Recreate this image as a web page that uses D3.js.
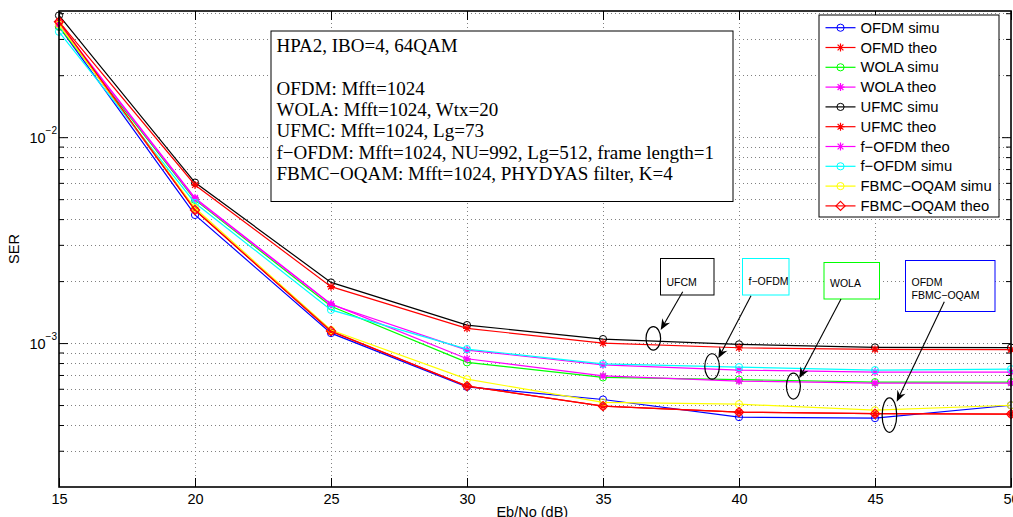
<!DOCTYPE html>
<html>
<head>
<meta charset="utf-8">
<script src="https://cdn.jsdelivr.net/npm/d3@7"></script>
<style>
  body { margin: 0; background: #fff; }
  svg { display: block; }
</style>
</head>
<body>
<svg id="chart"></svg>
<script>
// Eb/No points (dB)
const ebno = [15, 20, 25, 30, 35, 40, 45, 50];

// SER per waveform
const ofdmSimu  = [0.0344, 0.00419, 0.001118, 0.000613, 0.000532, 0.000437, 0.000432, 0.000499];
const ofdmTheo  = [0.0356, 0.00443, 0.001137, 0.000618, 0.000494, 0.000462, 0.000454, 0.000452];
const wolaSimu  = [0.0344, 0.00496, 0.00151, 0.000806, 0.000681, 0.000665, 0.000646, 0.000646];
const wolaTheo  = [0.0356, 0.00507, 0.00155, 0.000839, 0.000693, 0.000654, 0.000639, 0.000639];
const ufmcSimu  = [0.0390, 0.00602, 0.00197, 0.001223, 0.001046, 0.000986, 0.000953, 0.000951];
const ufmcTheo  = [0.0364, 0.00586, 0.00188, 0.001179, 0.00100, 0.000949, 0.000932, 0.000930];
const fofdmTheo = [0.0352, 0.00501, 0.00154, 0.000925, 0.000784, 0.000739, 0.000723, 0.000723];
const fofdmSimu = [0.0325, 0.00479, 0.00145, 0.000935, 0.000793, 0.000764, 0.000739, 0.000747];
const fbmcSimu  = [0.0352, 0.00453, 0.001157, 0.000668, 0.000515, 0.000505, 0.000472, 0.000499];
const fbmcTheo  = [0.0364, 0.00443, 0.001144, 0.000618, 0.000494, 0.000462, 0.000454, 0.000452];

const legendNames = [
  "OFDM simu", "OFMD theo", "WOLA simu", "WOLA theo", "UFMC simu",
  "UFMC theo", "f\u2212OFDM theo", "f\u2212OFDM simu", "FBMC\u2212OQAM simu", "FBMC\u2212OQAM theo"
];

const xTicks = [15, 20, 25, 30, 35, 40, 45, 50];
const yMajor = [1e-3, 1e-2];
const yMinor = [3e-4, 4e-4, 5e-4, 6e-4, 7e-4, 8e-4, 9e-4,
  2e-3, 3e-3, 4e-3, 5e-3, 6e-3, 7e-3, 8e-3, 9e-3, 2e-2, 3e-2, 4e-2];

const infoLines = [
  "HPA2, IBO=4, 64QAM",
  "",
  "OFDM: Mfft=1024",
  "WOLA: Mfft=1024, Wtx=20",
  "UFMC: Mfft=1024, Lg=73",
  "f\u2212OFDM: Mfft=1024, NU=992, Lg=512, frame length=1",
  "FBMC\u2212OQAM: Mfft=1024, PHYDYAS filter, K=4"
];

// ellipse annotations in data units: [Eb/No, SER]
const ellipseAt = [[36.85, 0.001054], [39.01, 0.00077], [42.0, 0.000618], [45.53, 0.000447]];

const width = 1013;
const height = 517;
const plot = { left: 59, right: 1011, top: 11, bottom: 487 };

const series = [
  { values: ofdmSimu,  color: "#0000ff", marker: "circle" },
  { values: ofdmTheo,  color: "#ff0000", marker: "star" },
  { values: wolaSimu,  color: "#00ff00", marker: "circle" },
  { values: wolaTheo,  color: "#ff00ff", marker: "star" },
  { values: ufmcSimu,  color: "#000000", marker: "circle" },
  { values: ufmcTheo,  color: "#ff0000", marker: "star" },
  { values: fofdmTheo, color: "#ff00ff", marker: "star" },
  { values: fofdmSimu, color: "#00ffff", marker: "circle" },
  { values: fbmcSimu,  color: "#ffff00", marker: "circle" },
  { values: fbmcTheo,  color: "#ff0000", marker: "diamond" },
].map((s, i) => ({ ...s, name: legendNames[i] }));

const svg = d3.select("#chart")
  .attr("width", width)
  .attr("height", height)
  .attr("viewBox", `0 0 ${width} ${height}`)
  .style("font-family", "'Liberation Sans', Arial, sans-serif");

svg.append("rect").attr("width", width).attr("height", height).attr("fill", "#fff");

const x = d3.scaleLinear().domain([15, 50]).range([plot.left, plot.right]);
const y = d3.scaleLog().domain([2e-4, 0.041]).range([plot.bottom, plot.top]);

// dotted grid
const grid = svg.append("g")
  .attr("stroke", "#808080")
  .attr("stroke-width", 1)
  .attr("stroke-dasharray", "1,3");

grid.selectAll(".gx")
  .data(xTicks.slice(1, -1))
  .join("line")
  .attr("x1", (d) => Math.round(x(d)) + 0.5).attr("x2", (d) => Math.round(x(d)) + 0.5)
  .attr("y1", plot.top).attr("y2", plot.bottom);

grid.selectAll(".gy")
  .data(yMajor.concat(yMinor))
  .join("line")
  .attr("x1", plot.left).attr("x2", plot.right)
  .attr("y1", (d) => Math.round(y(d)) + 0.5).attr("y2", (d) => Math.round(y(d)) + 0.5);

// ticks (inward) on all four sides
const tickStyle = (g) => {
  g.select(".domain").remove();
  g.selectAll(".tick line").attr("stroke", "#000");
};

svg.append("g")
  .attr("transform", `translate(0,${plot.bottom})`)
  .call(d3.axisBottom(x).tickValues(xTicks).tickSize(-9).tickPadding(7))
  .call(tickStyle)
  .call((g) => g.selectAll("text").attr("font-size", 14.5).attr("fill", "#000")
    .attr("font-family", "'Liberation Sans', Arial, sans-serif"));

svg.append("g")
  .attr("transform", `translate(0,${plot.top})`)
  .call(d3.axisTop(x).tickValues(xTicks).tickSize(-9).tickFormat(""))
  .call(tickStyle);

svg.append("g")
  .attr("transform", `translate(${plot.left},0)`)
  .call(d3.axisLeft(y).tickValues(yMajor).tickSize(-9).tickFormat(""))
  .call(tickStyle);
svg.append("g")
  .attr("transform", `translate(${plot.left},0)`)
  .call(d3.axisLeft(y).tickValues(yMinor).tickSize(-5).tickFormat(""))
  .call(tickStyle);
svg.append("g")
  .attr("transform", `translate(${plot.right},0)`)
  .call(d3.axisRight(y).tickValues(yMajor).tickSize(-9).tickFormat(""))
  .call(tickStyle);
svg.append("g")
  .attr("transform", `translate(${plot.right},0)`)
  .call(d3.axisRight(y).tickValues(yMinor).tickSize(-5).tickFormat(""))
  .call(tickStyle);

// 10^-n labels
const yLab = svg.append("g").selectAll("text")
  .data(yMajor)
  .join("text")
  .attr("x", 57)
  .attr("y", (d) => y(d) + 6)
  .attr("text-anchor", "end")
  .attr("font-size", 14.5)
  .attr("fill", "#000");
yLab.append("tspan").text("10");
yLab.append("tspan")
  .attr("dy", -9)
  .attr("font-size", 10)
  .text((d) => "\u2212" + Math.round(-Math.log10(d)));

// axis titles
svg.append("text")
  .attr("x", x(32.4))
  .attr("y", 516.5)
  .attr("text-anchor", "middle")
  .attr("font-size", 14.5)
  .text("Eb/No (dB)");

svg.append("text")
  .attr("transform", `translate(19,${(plot.top + plot.bottom) / 2}) rotate(-90)`)
  .attr("text-anchor", "middle")
  .attr("font-size", 14.5)
  .text("SER");

// marker drawing
function drawMarker(g, type, color) {
  if (type === "circle") {
    g.append("circle").attr("r", 3.6).attr("fill", "none")
      .attr("stroke", color).attr("stroke-width", 1);
  } else if (type === "star") {
    g.append("path").attr("d", "M-4,0H4M0,-4V4M-2.9,-2.9L2.9,2.9M-2.9,2.9L2.9,-2.9")
      .attr("fill", "none").attr("stroke", color).attr("stroke-width", 1.2);
  } else {
    g.append("path").attr("d", "M0,-4.6L4.6,0L0,4.6L-4.6,0Z")
      .attr("fill", "none").attr("stroke", color).attr("stroke-width", 1.2);
  }
}

const line = d3.line()
  .x((d) => x(d[0]))
  .y((d) => y(d[1]));

const curves = svg.append("g");
series.forEach((s) => {
  const pts = ebno.map((e, i) => [e, s.values[i]]);
  const g = curves.append("g");
  g.append("path")
    .attr("d", line(pts))
    .attr("fill", "none")
    .attr("stroke", s.color)
    .attr("stroke-width", 1.2);
  pts.forEach((p) => {
    const m = g.append("g").attr("transform", `translate(${x(p[0])},${y(p[1])})`);
    drawMarker(m, s.marker, s.color);
  });
});

// plot frame
svg.append("rect")
  .attr("x", plot.left).attr("y", plot.top)
  .attr("width", plot.right - plot.left).attr("height", plot.bottom - plot.top)
  .attr("fill", "none").attr("stroke", "#000").attr("stroke-width", 1.6);

// info text box
const info = svg.append("g");
info.append("rect")
  .attr("x", 271).attr("y", 31).attr("width", 462).attr("height", 170.5)
  .attr("fill", "#fff").attr("stroke", "#000").attr("stroke-width", 1);
info.selectAll("text")
  .data(infoLines)
  .join("text")
  .attr("x", 276.5)
  .attr("y", (d, i) => 51.7 + i * 21.4)
  .attr("font-family", "'Liberation Serif', 'Times New Roman', serif")
  .attr("font-size", 19)
  .attr("fill", "#000")
  .text((d) => d);

// legend
const legend = svg.append("g");
legend.append("rect")
  .attr("x", 819).attr("y", 15).attr("width", 180).attr("height", 202)
  .attr("fill", "#fff").attr("stroke", "#000").attr("stroke-width", 1);
series.forEach((s, i) => {
  const cy = 27.7 + i * 19.8;
  const row = legend.append("g").attr("transform", `translate(0,${cy})`);
  row.append("line").attr("x1", 825.5).attr("x2", 855.5)
    .attr("stroke", s.color).attr("stroke-width", 1.2);
  drawMarker(row.append("g").attr("transform", "translate(840.5,0)"), s.marker, s.color);
  row.append("text").attr("x", 860.5).attr("y", 5)
    .attr("font-size", 14.8).attr("fill", "#000").text(s.name);
});

// callout boxes
const boxes = [
  { x: 660.5, y: 258.5, w: 53.5, h: 36.5, color: "#000000", lines: ["UFCM"], ty: 286 },
  { x: 742.5, y: 258.5, w: 46.5, h: 36.5, color: "#00ffff", lines: ["f\u2212OFDM"], ty: 284.5 },
  { x: 824, y: 262.5, w: 55.5, h: 36.5, color: "#00ff00", lines: ["WOLA"], ty: 287 },
  { x: 905.5, y: 260.5, w: 89.5, h: 51, color: "#0000ff", lines: ["OFDM", "FBMC\u2212OQAM"], ty: 286 },
];
const callouts = svg.append("g");
boxes.forEach((b) => {
  callouts.append("rect")
    .attr("x", b.x).attr("y", b.y).attr("width", b.w).attr("height", b.h)
    .attr("fill", "#fff").attr("stroke", b.color).attr("stroke-width", 1);
  b.lines.forEach((t, i) => {
    callouts.append("text")
      .attr("x", b.x + 6).attr("y", b.ty + i * 12.5)
      .attr("font-size", 10.5).attr("fill", "#000").text(t);
  });
});

// ellipses around curve groups
const radii = [[7.3, 11.7], [7.3, 12.7], [7, 13], [7.3, 17.3]];
callouts.selectAll("ellipse")
  .data(ellipseAt)
  .join("ellipse")
  .attr("cx", (d) => x(d[0]))
  .attr("cy", (d) => y(d[1]))
  .attr("rx", (d, i) => radii[i][0])
  .attr("ry", (d, i) => radii[i][1])
  .attr("fill", "none")
  .attr("stroke", "#000")
  .attr("stroke-width", 1.2);

// arrows from box to ellipse
const arrows = [
  [[682.7, 291.7], [660.7, 330]],
  [[751, 295.7], [718.3, 358.3]],
  [[841, 299], [799.3, 378.3]],
  [[944.3, 301.7], [896.7, 401.7]],
];
arrows.forEach(([a, b]) => {
  const ang = Math.atan2(b[1] - a[1], b[0] - a[0]);
  const ux = Math.cos(ang), uy = Math.sin(ang);
  const L = 11, W = 4.5;
  const bx = b[0] - ux * L, by = b[1] - uy * L;
  callouts.append("line")
    .attr("x1", a[0]).attr("y1", a[1])
    .attr("x2", b[0] - ux * 6).attr("y2", b[1] - uy * 6)
    .attr("stroke", "#000").attr("stroke-width", 1.1);
  const head = [
    [b[0], b[1]],
    [bx - uy * W, by + ux * W],
    [b[0] - ux * 7.5, b[1] - uy * 7.5],
    [bx + uy * W, by - ux * W],
  ];
  callouts.append("path")
    .attr("d", "M" + head.map((p) => p.join(",")).join("L") + "Z")
    .attr("fill", "#000");
});
</script>
</body>
</html>
